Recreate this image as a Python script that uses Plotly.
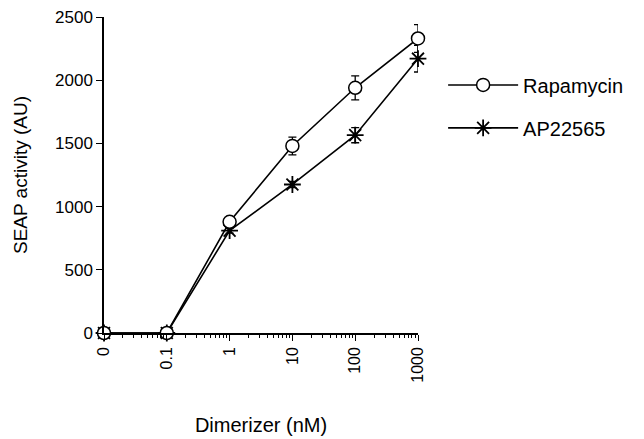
import plotly.graph_objects as go

dose_labels = ["0", "0.1", "1", "10", "100", "1000"]
dose_pos = [0.01, 0.1, 1, 10, 100, 1000]  # "0" drawn one decade below 0.1

rapa = [0, 0, 880, 1480, 1940, 2330]
rapa_err = [0, 0, 20, 70, 95, 110]
ap = [0, 0, 810, 1175, 1565, 2170]
ap_err = [0, 0, 20, 25, 60, 105]

y_ticks = [0, 500, 1000, 1500, 2000, 2500]

minor_vals = [m * 10 ** e for e in range(-2, 3) for m in range(2, 10)]

FONT = "Liberation Sans, Arial, sans-serif"

fig = go.Figure()
fig.add_trace(go.Scatter(
    x=dose_pos, y=ap, name="AP22565", mode="lines+markers",
    line=dict(color="black", width=1.6),
    marker=dict(symbol="asterisk-open", size=14, color="black", line=dict(color="black", width=1.8)),
    error_y=dict(type="data", array=ap_err, color="black", thickness=1.3, width=4),
    cliponaxis=False, legend="legend2",
))
fig.add_trace(go.Scatter(
    x=dose_pos, y=rapa, name="Rapamycin", mode="lines+markers",
    line=dict(color="black", width=1.6),
    marker=dict(symbol="circle", size=13, color="white", line=dict(color="black", width=1.5)),
    error_y=dict(type="data", array=rapa_err, color="black", thickness=1.3, width=4),
    cliponaxis=False, legend="legend",
))

leg_common = dict(xanchor="left", yanchor="middle", font=dict(size=20, color="black"),
                  itemwidth=70, bgcolor="rgba(0,0,0,0)")

fig.update_layout(
    width=644, height=439,
    margin=dict(l=104, r=226, t=17, b=106),
    paper_bgcolor="white", plot_bgcolor="white",
    font=dict(family=FONT, size=16, color="black"),
    showlegend=True,
    legend=dict(x=1.08, y=0.785, **leg_common),
    legend2=dict(x=1.08, y=0.649, **leg_common),
    xaxis=dict(
        type="log", range=[-2, 3], automargin=False,
        tickmode="array", tickvals=dose_pos, ticktext=dose_labels,
        tickangle=-90, ticks="outside", ticklen=6, tickwidth=1.3, tickcolor="black",
        showline=True, linecolor="black", linewidth=1.5,
        showgrid=False, zeroline=False,
        minor=dict(tickmode="array", tickvals=minor_vals, ticks="outside", ticklen=3,
                   tickwidth=1, tickcolor="black", showgrid=False),
        title=dict(text="Dimerizer (nM)", font=dict(size=20, color="black"), standoff=36),
        tickfont=dict(size=16, color="black"),
    ),
    yaxis=dict(
        range=[0, 2500], tickmode="array", tickvals=y_ticks, automargin=False,
        ticks="outside", ticklen=6, tickwidth=1.3, tickcolor="black",
        showline=True, linecolor="black", linewidth=1.5,
        showgrid=False, zeroline=False,
        title=dict(text="SEAP activity (AU)", font=dict(size=19, color="black"), standoff=22),
        tickfont=dict(size=17, color="black"),
    ),
)

fig.write_html("out.html", config={"displayModeBar": False},
               post_script="document.body.style.margin='0';")
